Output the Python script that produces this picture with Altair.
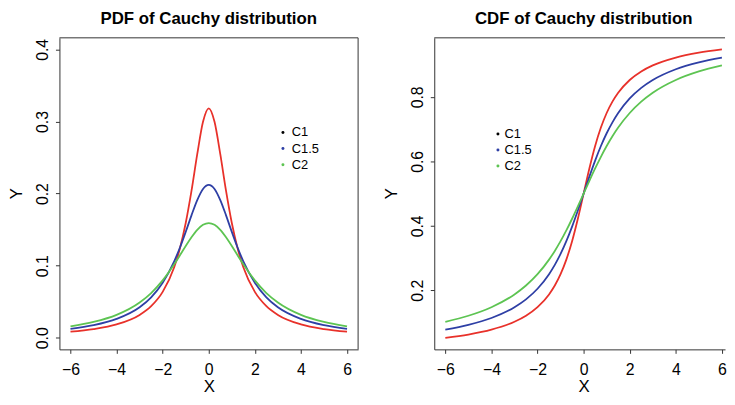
import altair as alt
import pandas as pd

# ---- data ----
x_vals = [-6, -5, -4, -3, -2.5, -2, -1.5, -1.25, -1, -0.75, -0.5, -0.25, 0,
          0.25, 0.5, 0.75, 1, 1.25, 1.5, 2, 2.5, 3, 4, 5, 6]

pdf_c1 = [0.0086, 0.0122, 0.0187, 0.0318, 0.0439, 0.0637, 0.0979, 0.1242, 0.1592, 0.2037, 0.2546, 0.2996, 0.3183,
          0.2996, 0.2546, 0.2037, 0.1592, 0.1242, 0.0979, 0.0637, 0.0439, 0.0318, 0.0187, 0.0122, 0.0086]
pdf_c15 = [0.0125, 0.0175, 0.0262, 0.0424, 0.0562, 0.0764, 0.1061, 0.1252, 0.1469, 0.1698, 0.1910, 0.2065, 0.2122,
           0.2065, 0.1910, 0.1698, 0.1469, 0.1252, 0.1061, 0.0764, 0.0562, 0.0424, 0.0262, 0.0175, 0.0125]
pdf_c2 = [0.0159, 0.0220, 0.0318, 0.0490, 0.0621, 0.0796, 0.1019, 0.1144, 0.1273, 0.1395, 0.1498, 0.1567, 0.1592,
          0.1567, 0.1498, 0.1395, 0.1273, 0.1144, 0.1019, 0.0796, 0.0621, 0.0490, 0.0318, 0.0220, 0.0159]

cdf_c1 = [0.0526, 0.0628, 0.0780, 0.1024, 0.1211, 0.1476, 0.1872, 0.2148, 0.2500, 0.2952, 0.3524, 0.4220, 0.5000,
          0.5780, 0.6476, 0.7048, 0.7500, 0.7852, 0.8128, 0.8524, 0.8789, 0.8976, 0.9220, 0.9372, 0.9474]
cdf_c15 = [0.0780, 0.0928, 0.1142, 0.1476, 0.1720, 0.2048, 0.2500, 0.2789, 0.3128, 0.3524, 0.3976, 0.4474, 0.5000,
           0.5526, 0.6024, 0.6476, 0.6872, 0.7211, 0.7500, 0.7952, 0.8280, 0.8524, 0.8858, 0.9072, 0.9220]
cdf_c2 = [0.1024, 0.1211, 0.1476, 0.1872, 0.2148, 0.2500, 0.2952, 0.3222, 0.3524, 0.3858, 0.4220, 0.4604, 0.5000,
          0.5396, 0.5780, 0.6142, 0.6476, 0.6778, 0.7048, 0.7500, 0.7852, 0.8128, 0.8524, 0.8789, 0.8976]

series_names = ["C1", "C1.5", "C2"]
line_colors = ["#E8312A", "#2E3FA5", "#5DC452"]
legend_labels = ["C1", "C1.5", "C2"]
legend_dot_colors = ["#000000", "#2E3FA5", "#5DC452"]
panel_titles = ["PDF of Cauchy distribution", "CDF of Cauchy distribution"]
y_title = "Y"
x_title = "X"

x_ticks = [-6, -4, -2, 0, 2, 4, 6]
pdf_y_ticks = [0.0, 0.1, 0.2, 0.3, 0.4]
cdf_y_ticks = [0.2, 0.4, 0.6, 0.8]

FONT = "Liberation Sans"
FRAME = "#333333"


def long_df(series_values):
    rows = []
    for name, vals in zip(series_names, series_values):
        for xv, yv in zip(x_vals, vals):
            rows.append({"x": xv, "y": yv, "series": name})
    return pd.DataFrame(rows)


pdf_df = long_df([pdf_c1, pdf_c15, pdf_c2])
cdf_df = long_df([cdf_c1, cdf_c15, cdf_c2])
leg_df = pd.DataFrame({"label": legend_labels})
one_df = pd.DataFrame({"k": [0]})

H = 315


def panel(df, ydomain, yticks, title, W, xmax, center_x, leg_dot_x, leg_text_x, leg_y_range, right_border):
    x_axis = alt.Axis(values=x_ticks, title=x_title, format="d", grid=False, domain=True,
                      domainColor=FRAME, tickColor=FRAME, tickSize=4, labelFontSize=16,
                      labelFont=FONT, labelColor="black", labelPadding=8, titleFont=FONT,
                      titleFontSize=17, titleFontWeight="normal", titleColor="black",
                      titleBaseline="alphabetic", titleAlign="center", titleX=center_x, titleY=43,
                      labelFlush=False)
    y_axis = alt.Axis(values=yticks, title=None, format=".1f", grid=False, domain=True,
                      domainColor=FRAME, tickColor=FRAME, tickSize=4, labelFontSize=16,
                      labelFont=FONT, labelColor="black", labelAngle=270, labelAlign="center",
                      labelBaseline="alphabetic", labelPadding=8, labelFlush=False)
    lines = alt.Chart(df).mark_line(strokeWidth=1.8, interpolate="monotone", clip=True).encode(
        x=alt.X("x:Q", scale=alt.Scale(domain=[-6.48, xmax], nice=False, zero=False), axis=x_axis),
        y=alt.Y("y:Q", scale=alt.Scale(domain=ydomain, nice=False, zero=False), axis=y_axis),
        stroke=alt.Stroke("series:N", scale=alt.Scale(domain=series_names, range=line_colors), legend=None),
        detail="series:N",
    )
    leg_y = alt.Y("label:N", sort=legend_labels, axis=None,
                  scale=alt.Scale(range=leg_y_range, padding=0))
    leg_pts = alt.Chart(leg_df).mark_circle(size=9, opacity=1).encode(
        x=alt.value(leg_dot_x),
        y=leg_y,
        fill=alt.Fill("label:N", scale=alt.Scale(domain=legend_labels, range=legend_dot_colors), legend=None),
    )
    leg_txt = alt.Chart(leg_df).mark_text(align="left", baseline="middle", fontSize=13,
                                          font=FONT, color="black").encode(
        x=alt.value(leg_text_x),
        y=leg_y,
        text="label:N",
    )
    title_txt = alt.Chart(pd.DataFrame({"t": [title]})).mark_text(
        align="center", baseline="alphabetic", fontSize=17, fontWeight="bold", font=FONT,
        color="black").encode(x=alt.value(center_x), y=alt.value(-14), text="t:N")
    ytitle_txt = alt.Chart(pd.DataFrame({"t": [y_title]})).mark_text(
        align="center", baseline="alphabetic", fontSize=17, font=FONT, angle=270,
        color="black").encode(x=alt.value(-38), y=alt.value(H / 2), text="t:N")
    top_rule = alt.Chart(one_df).mark_rule(color=FRAME, strokeWidth=1).encode(
        x=alt.value(0), x2=alt.value(W), y=alt.value(0))
    layers = [lines, leg_pts, leg_txt, title_txt, ytitle_txt, top_rule]
    if right_border:
        right_rule = alt.Chart(one_df).mark_rule(color=FRAME, strokeWidth=1).encode(
            x=alt.value(W), y=alt.value(0), y2=alt.value(H))
        layers.append(right_rule)
    return alt.layer(*layers).resolve_scale(y="independent").properties(width=W, height=H)


left = panel(pdf_df, [-0.016, 0.416], pdf_y_ticks, panel_titles[0], 302, 6.48, 151,
             226, 235, [95.7, 128.3], True)
right = panel(cdf_df, [0.0168, 0.9832], cdf_y_ticks, panel_titles[1], 294, 6.135, 151.1,
              64.4, 71, [97.3, 129.7], False)

chart = alt.hconcat(left, right, spacing=24).resolve_scale(x="independent", y="independent").configure_view(
    stroke=None).properties(padding=0, background="white")

chart.save("out.html", embed_options={"renderer": "svg", "actions": False})
